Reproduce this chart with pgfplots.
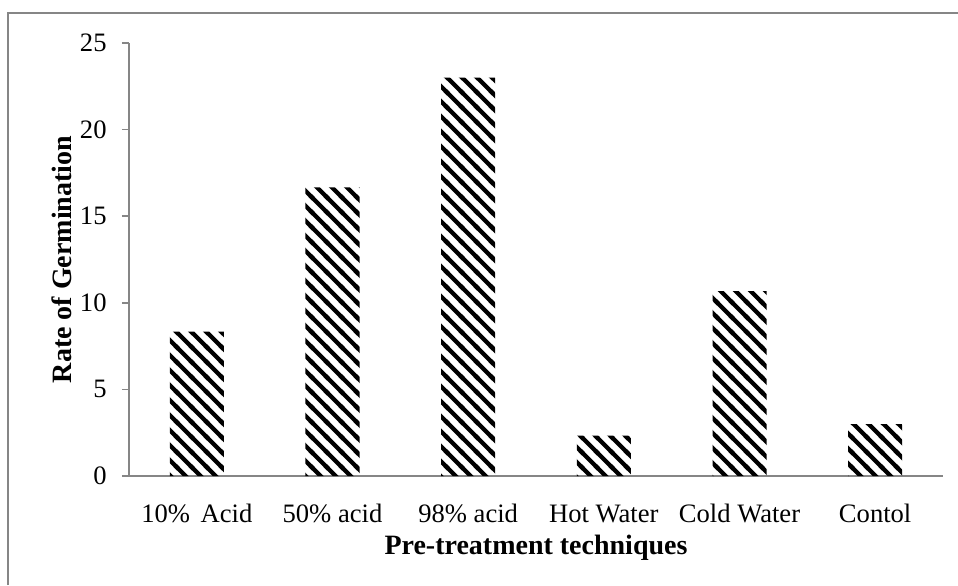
\documentclass[border=0pt]{standalone}
\usepackage{fontspec}
\setmainfont{Liberation Serif}
\usepackage{pgfplots}
\pgfplotsset{compat=1.18}
\usetikzlibrary{patterns}
\definecolor{axgray}{HTML}{868686}
\pgfdeclarepatternformonly{widestripes}{\pgfqpoint{0pt}{0pt}}{\pgfqpoint{7.4pt}{7.4pt}}{\pgfqpoint{7.4pt}{7.4pt}}{%
  \pgfsetlinewidth{2.1pt}%
  \pgfpathmoveto{\pgfqpoint{-3.7pt}{11.1pt}}\pgfpathlineto{\pgfqpoint{11.1pt}{-3.7pt}}%
  \pgfpathmoveto{\pgfqpoint{-3.7pt}{3.7pt}}\pgfpathlineto{\pgfqpoint{3.7pt}{-3.7pt}}%
  \pgfpathmoveto{\pgfqpoint{3.7pt}{11.1pt}}\pgfpathlineto{\pgfqpoint{11.1pt}{3.7pt}}%
  \pgfusepath{stroke}%
}
\begin{document}
\begin{tikzpicture}[x=1pt,y=1pt]
\begin{axis}[
  at={(0,0)}, anchor=south west,
  scale only axis, width=407pt, height=216.5pt,
  ymin=0, ymax=25, ytick={0,5,10,15,20,25},
  xmin=-0.5, xmax=5.5,
  xtick={0,1,2,3,4,5},
  xticklabels={10\%\hspace{0.4em}Acid, 50\% acid, 98\% acid, Hot Water, Cold Water, Contol},
  axis x line=bottom, axis y line=left,
  axis line style={draw=axgray, line width=0.75pt, -},
  ytick style={draw=axgray, line width=0.75pt},
  xtick style={draw=none},
  tick align=outside,
  major tick length=3.5pt,
  /pgf/number format/assume math mode=true,
  ticklabel style={font=\fontsize{13.3}{15}\selectfont},
  yticklabel style={anchor=east, inner sep=0pt, xshift=-7.5pt},
  xticklabel style={anchor=base, inner sep=0pt},
  every x tick label/.append style={yshift=-19.5pt},
  ylabel={\textbf{Rate of Germination}},
  xlabel={\textbf{Pre-treatment techniques}},
  every axis y label/.style={at={(axis description cs:-0.0823,0.5)}, rotate=90, anchor=center, font=\fontsize{14}{16}\selectfont},
  every axis x label/.style={at={(axis description cs:0.5,-0.166)}, anchor=center, font=\fontsize{14}{16}\selectfont},
  clip=false,
]
\addplot[ybar, bar width=27pt, draw=none,
  pattern=widestripes, pattern color=black]
  coordinates {(0,8.33) (1,16.67) (2,23) (3,2.33) (4,10.67) (5,3)};
\end{axis}
\draw[axgray, line width=0.75pt] (-60.5pt,-54.5pt) -- (-60.5pt,231.5pt) -- (414.5pt,231.5pt);
\pgfresetboundingbox
\useasboundingbox (-64.5pt,-54.5pt) rectangle (414.5pt,238pt);
\end{tikzpicture}
\end{document}
